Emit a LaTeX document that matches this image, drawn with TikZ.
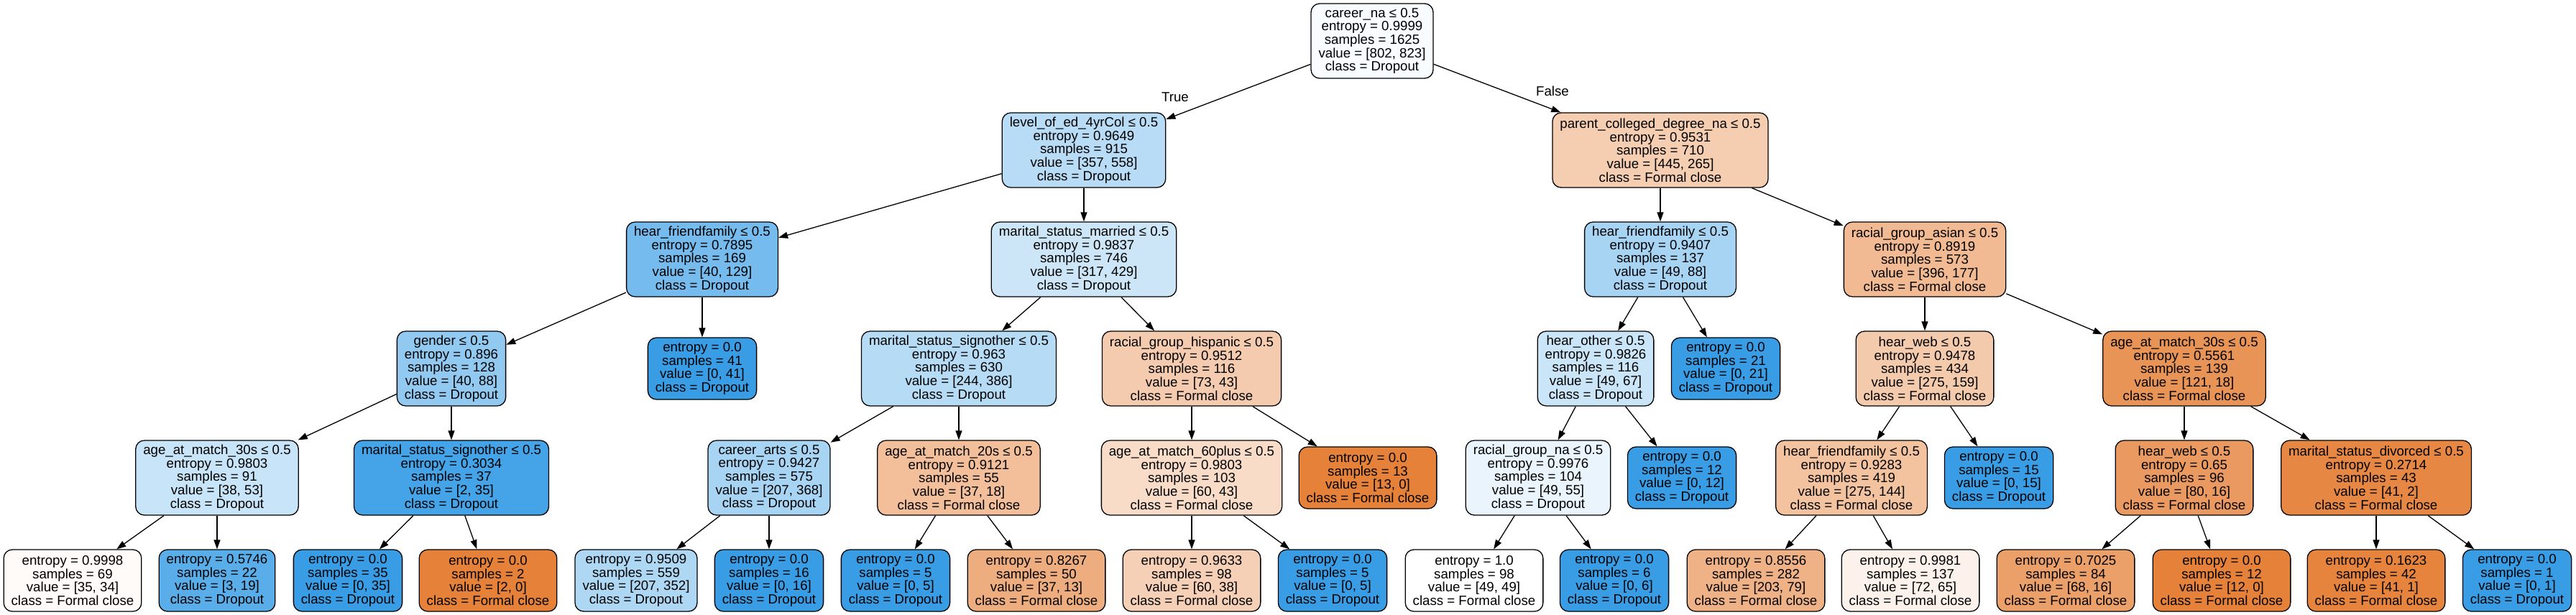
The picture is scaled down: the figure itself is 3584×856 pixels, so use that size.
\documentclass[tikz,border=0pt]{standalone}
\usepackage{fontspec}
\setmainfont{Liberation Sans}
\usetikzlibrary{arrows.meta}
\definecolor{drop}{HTML}{399DE5}
\definecolor{formal}{HTML}{E58139}
\newcommand\treefont{\fontsize{18.67bp}{18.67bp}\selectfont}

\begin{document}
\begin{tikzpicture}[x=1bp, y=-1bp,
  split/.style={draw, rounded corners=12bp, line width=1.3bp, align=center,
    inner xsep=10.5bp, inner ysep=0pt, minimum height=104bp, font=\treefont},
  leaf/.style={split, minimum height=86bp},
  edge/.style={line width=1.3bp, -{Triangle[length=13bp, width=9bp]}}]
\useasboundingbox (0,0) rectangle (3584,856);
% root
\node [split, fill=drop!3] (root) at (1909,57) {career\_na ≤ 0.5\\entropy = 0.9999\\samples = 1625\\value = [802, 823]\\class = Dropout};
\node [font=\treefont] (truelbl) at (1635,135) {True};
\node [font=\treefont] (falselbl) at (2160,127) {False};
% depth 1
\node [split, fill=drop!36] (lvl) at (1508,209) {level\_of\_ed\_4yrCol ≤ 0.5\\entropy = 0.9649\\samples = 915\\value = [357, 558]\\class = Dropout};
\node [split, fill=formal!40] (pcd) at (2310,209) {parent\_colleged\_degree\_na ≤ 0.5\\entropy = 0.9531\\samples = 710\\value = [445, 265]\\class = Formal close};
% depth 2
\node [split, fill=drop!69] (hffa) at (977,361) {hear\_friendfamily ≤ 0.5\\entropy = 0.7895\\samples = 169\\value = [40, 129]\\class = Dropout};
\node [split, fill=drop!26] (msm) at (1508,361) {marital\_status\_married ≤ 0.5\\entropy = 0.9837\\samples = 746\\value = [317, 429]\\class = Dropout};
\node [split, fill=drop!44] (hffb) at (2310,361) {hear\_friendfamily ≤ 0.5\\entropy = 0.9407\\samples = 137\\value = [49, 88]\\class = Dropout};
\node [split, fill=formal!55] (rga) at (2678,361) {racial\_group\_asian ≤ 0.5\\entropy = 0.8919\\samples = 573\\value = [396, 177]\\class = Formal close};
% depth 3
\node [split, fill=drop!55] (gen) at (628,513) {gender ≤ 0.5\\entropy = 0.896\\samples = 128\\value = [40, 88]\\class = Dropout};
\node [leaf, fill=drop] (lfa) at (977,513) {entropy = 0.0\\samples = 41\\value = [0, 41]\\class = Dropout};
\node [split, fill=drop!37] (mssa) at (1334,513) {marital\_status\_signother ≤ 0.5\\entropy = 0.963\\samples = 630\\value = [244, 386]\\class = Dropout};
\node [split, fill=formal!41] (rgh) at (1658,513) {racial\_group\_hispanic ≤ 0.5\\entropy = 0.9512\\samples = 116\\value = [73, 43]\\class = Formal close};
\node [split, fill=drop!27] (hoth) at (2220,513) {hear\_other ≤ 0.5\\entropy = 0.9826\\samples = 116\\value = [49, 67]\\class = Dropout};
\node [leaf, fill=drop] (lfb) at (2401,513) {entropy = 0.0\\samples = 21\\value = [0, 21]\\class = Dropout};
\node [split, fill=formal!42] (hweba) at (2678,513) {hear\_web ≤ 0.5\\entropy = 0.9478\\samples = 434\\value = [275, 159]\\class = Formal close};
\node [split, fill=formal!85] (agea) at (3039,513) {age\_at\_match\_30s ≤ 0.5\\entropy = 0.5561\\samples = 139\\value = [121, 18]\\class = Formal close};
% depth 4
\node [split, fill=drop!28] (ageb) at (302,665) {age\_at\_match\_30s ≤ 0.5\\entropy = 0.9803\\samples = 91\\value = [38, 53]\\class = Dropout};
\node [split, fill=drop!94] (mssb) at (628,665) {marital\_status\_signother ≤ 0.5\\entropy = 0.3034\\samples = 37\\value = [2, 35]\\class = Dropout};
\node [split, fill=drop!44] (carts) at (1070,665) {career\_arts ≤ 0.5\\entropy = 0.9427\\samples = 575\\value = [207, 368]\\class = Dropout};
\node [split, fill=formal!51] (agec) at (1334,665) {age\_at\_match\_20s ≤ 0.5\\entropy = 0.9121\\samples = 55\\value = [37, 18]\\class = Formal close};
\node [split, fill=formal!28] (aged) at (1658,665) {age\_at\_match\_60plus ≤ 0.5\\entropy = 0.9803\\samples = 103\\value = [60, 43]\\class = Formal close};
\node [leaf, fill=formal] (lfc) at (1903,665) {entropy = 0.0\\samples = 13\\value = [13, 0]\\class = Formal close};
\node [split, fill=drop!11] (rgna) at (2140,665) {racial\_group\_na ≤ 0.5\\entropy = 0.9976\\samples = 104\\value = [49, 55]\\class = Dropout};
\node [leaf, fill=drop] (lfd) at (2340,665) {entropy = 0.0\\samples = 12\\value = [0, 12]\\class = Dropout};
\node [split, fill=formal!48] (hffc) at (2576,665) {hear\_friendfamily ≤ 0.5\\entropy = 0.9283\\samples = 419\\value = [275, 144]\\class = Formal close};
\node [leaf, fill=drop] (lfe) at (2781,665) {entropy = 0.0\\samples = 15\\value = [0, 15]\\class = Dropout};
\node [split, fill=formal!80] (hwebb) at (3039,665) {hear\_web ≤ 0.5\\entropy = 0.65\\samples = 96\\value = [80, 16]\\class = Formal close};
\node [split, fill=formal!95] (div) at (3306,665) {marital\_status\_divorced ≤ 0.5\\entropy = 0.2714\\samples = 43\\value = [41, 2]\\class = Formal close};
% depth 5
\node [leaf, fill=formal!3] (l1) at (101,808) {entropy = 0.9998\\samples = 69\\value = [35, 34]\\class = Formal close};
\node [leaf, fill=drop!84] (l2) at (302,808) {entropy = 0.5746\\samples = 22\\value = [3, 19]\\class = Dropout};
\node [leaf, fill=drop] (l3) at (484,808) {entropy = 0.0\\samples = 35\\value = [0, 35]\\class = Dropout};
\node [leaf, fill=formal] (l4) at (679,808) {entropy = 0.0\\samples = 2\\value = [2, 0]\\class = Formal close};
\node [leaf, fill=drop!41] (l5) at (885,808) {entropy = 0.9509\\samples = 559\\value = [207, 352]\\class = Dropout};
\node [leaf, fill=drop] (l6) at (1070,808) {entropy = 0.0\\samples = 16\\value = [0, 16]\\class = Dropout};
\node [leaf, fill=drop] (l7) at (1246,808) {entropy = 0.0\\samples = 5\\value = [0, 5]\\class = Dropout};
\node [leaf, fill=formal!65] (l8) at (1442,808) {entropy = 0.8267\\samples = 50\\value = [37, 13]\\class = Formal close};
\node [leaf, fill=formal!37] (l9) at (1658,808) {entropy = 0.9633\\samples = 98\\value = [60, 38]\\class = Formal close};
\node [leaf, fill=drop] (l10) at (1854,808) {entropy = 0.0\\samples = 5\\value = [0, 5]\\class = Dropout};
\node [leaf, fill=white] (l11) at (2051,808) {entropy = 1.0\\samples = 98\\value = [49, 49]\\class = Formal close};
\node [leaf, fill=drop] (l12) at (2246,808) {entropy = 0.0\\samples = 6\\value = [0, 6]\\class = Dropout};
\node [leaf, fill=formal!61] (l13) at (2443,808) {entropy = 0.8556\\samples = 282\\value = [203, 79]\\class = Formal close};
\node [leaf, fill=formal!10] (l14) at (2658,808) {entropy = 0.9981\\samples = 137\\value = [72, 65]\\class = Formal close};
\node [leaf, fill=formal!76] (l15) at (2874,808) {entropy = 0.7025\\samples = 84\\value = [68, 16]\\class = Formal close};
\node [leaf, fill=formal] (l16) at (3091,808) {entropy = 0.0\\samples = 12\\value = [12, 0]\\class = Formal close};
\node [leaf, fill=formal!98] (l17) at (3306,808) {entropy = 0.1623\\samples = 42\\value = [41, 1]\\class = Formal close};
\node [leaf, fill=drop] (l18) at (3502,808) {entropy = 0.0\\samples = 1\\value = [0, 1]\\class = Dropout};
% left branch
\draw [edge] (root) -- (lvl);
\draw [edge] (lvl) -- (hffa);
\draw [edge] (lvl) -- (msm);
\draw [edge] (hffa) -- (gen);
\draw [edge] (hffa) -- (lfa);
\draw [edge] (gen) -- (ageb);
\draw [edge] (gen) -- (mssb);
\draw [edge] (ageb) -- (l1);
\draw [edge] (ageb) -- (l2);
\draw [edge] (mssb) -- (l3);
\draw [edge] (mssb) -- (l4);
\draw [edge] (msm) -- (mssa);
\draw [edge] (msm) -- (rgh);
\draw [edge] (mssa) -- (carts);
\draw [edge] (mssa) -- (agec);
\draw [edge] (carts) -- (l5);
\draw [edge] (carts) -- (l6);
\draw [edge] (agec) -- (l7);
\draw [edge] (agec) -- (l8);
\draw [edge] (rgh) -- (aged);
\draw [edge] (rgh) -- (lfc);
\draw [edge] (aged) -- (l9);
\draw [edge] (aged) -- (l10);
% right branch
\draw [edge] (root) -- (pcd);
\draw [edge] (pcd) -- (hffb);
\draw [edge] (pcd) -- (rga);
\draw [edge] (hffb) -- (hoth);
\draw [edge] (hffb) -- (lfb);
\draw [edge] (hoth) -- (rgna);
\draw [edge] (hoth) -- (lfd);
\draw [edge] (rgna) -- (l11);
\draw [edge] (rgna) -- (l12);
\draw [edge] (rga) -- (hweba);
\draw [edge] (rga) -- (agea);
\draw [edge] (hweba) -- (hffc);
\draw [edge] (hweba) -- (lfe);
\draw [edge] (hffc) -- (l13);
\draw [edge] (hffc) -- (l14);
\draw [edge] (agea) -- (hwebb);
\draw [edge] (agea) -- (div);
\draw [edge] (hwebb) -- (l15);
\draw [edge] (hwebb) -- (l16);
\draw [edge] (div) -- (l17);
\draw [edge] (div) -- (l18);
\end{tikzpicture}
\end{document}
